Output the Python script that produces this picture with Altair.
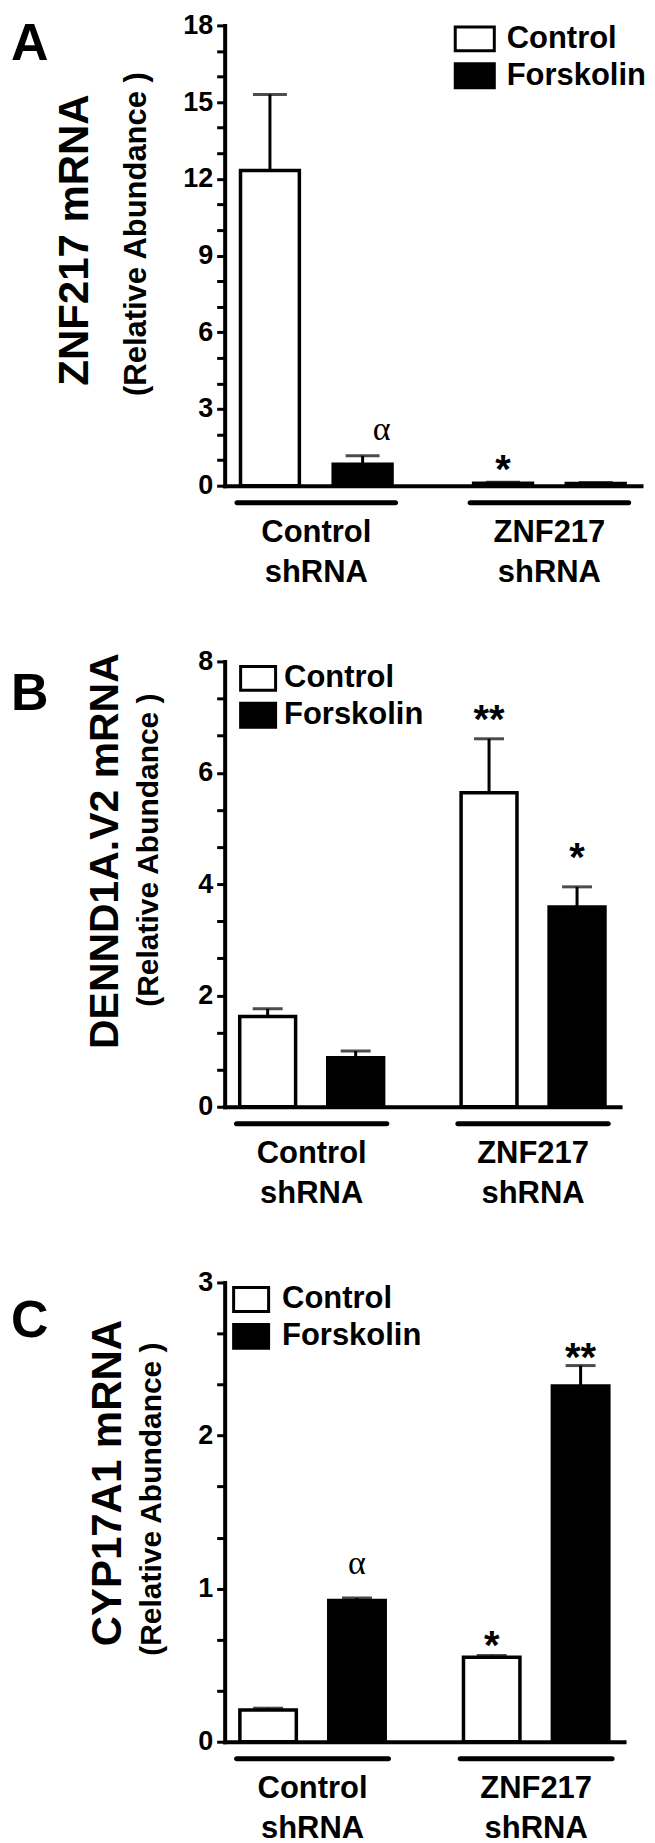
import altair as alt
import pandas as pd

FONT = "Liberation Sans"
SERIF = "Liberation Serif"

groups = ["Control shRNA", "ZNF217 shRNA"]
treatments = ["Control", "Forskolin"]
bar_group = ["Control shRNA", "Control shRNA", "ZNF217 shRNA", "ZNF217 shRNA"]
bar_treat = ["Control", "Forskolin", "Control", "Forskolin"]

# Panel A : ZNF217 mRNA
a_mean = [12.33, 0.84, 0.10, 0.09]
a_upper = [15.30, 1.17, 0.13, 0.12]
a_ticks = [0, 3, 6, 9, 12, 15, 18]
a_ann_group = ["Control shRNA", "ZNF217 shRNA"]
a_ann_treat = ["Forskolin", "Control"]
a_ann_text = ["α", "*"]
a_ann_pos = [2.10, 0.99]

# Panel B : DENND1A.V2 mRNA
b_mean = [1.62, 0.88, 5.64, 3.59]
b_upper = [1.76, 1.00, 6.61, 3.95]
b_ticks = [0, 2, 4, 6, 8]
b_ann_group = ["ZNF217 shRNA", "ZNF217 shRNA"]
b_ann_treat = ["Control", "Forskolin"]
b_ann_text = ["**", "*"]
b_ann_pos = [7.13, 4.64]

# Panel C : CYP17A1 mRNA
c_mean = [0.207, 0.923, 0.551, 2.323]
c_upper = [0.219, 0.939, 0.563, 2.457]
c_ticks = [0, 1, 2, 3]
c_ann_group = ["Control shRNA", "ZNF217 shRNA", "ZNF217 shRNA"]
c_ann_treat = ["Forskolin", "Control", "Forskolin"]
c_ann_text = ["α", "*", "**"]
c_ann_pos = [1.15, 0.69, 2.57]

subtitle = "(Relative Abundance )"


def panel(letter, title, mean, upper, ticks, ann_group, ann_treat, ann_text, ann_pos, cfg):
    W, H = cfg["W"], cfg["H"]
    major = ticks[1] - ticks[0]
    minor = major / 3.0
    n = int(round(ticks[-1] / minor))
    tick_vals = [round(i * minor, 6) for i in range(n + 1)]

    df = pd.DataFrame({"group": bar_group, "treatment": bar_treat, "mean": mean, "upper": upper})
    ann = pd.DataFrame({"group": ann_group, "treatment": ann_treat, "label": ann_text, "pos": ann_pos})
    stars_df = ann[ann["label"] != "α"]
    alpha_df = ann[ann["label"] == "α"]

    yscale = alt.Scale(domain=[ticks[0], ticks[-1]], nice=False, zero=True)
    yaxis = alt.Axis(
        values=tick_vals,
        labelExpr=f"abs(datum.value/{major} - round(datum.value/{major})) < 0.001 ? format(datum.value, 'd') : ''",
        title=None, grid=False, domainColor="black", domainWidth=4, domainCap="square",
        tickColor="black", tickWidth=3, tickSize=8,
        labelFont=FONT, labelFontSize=27, labelFontWeight="bold", labelColor="black",
        labelPadding=4, labelOverlap=False,
    )
    xaxis = alt.Axis(
        title=None, ticks=False, labelAngle=0, labelExpr="split(datum.label, ' ')",
        labelFont=FONT, labelFontSize=31, labelFontWeight="bold", labelColor="black",
        labelPadding=32, labelLineHeight=40, labelBaseline="top",
        domainColor="black", domainWidth=4, domainCap="square", grid=False,
    )
    xenc = alt.X("group:N", sort=groups,
                 scale=alt.Scale(domain=groups, paddingInner=0.35, paddingOuter=0.068),
                 axis=xaxis)
    xoff = alt.XOffset("treatment:N", sort=treatments,
                       scale=alt.Scale(domain=treatments, paddingInner=0.365, paddingOuter=0))
    hw = cfg["hw"]
    legend = alt.Legend(
        title=None, orient="none", legendX=cfg["lx"], legendY=cfg["ly"],
        symbolType=f"M-{hw},-1H{hw}V1H-{hw}Z", symbolSize=576,
        symbolStrokeColor="black", symbolStrokeWidth=3, symbolOpacity=1,
        labelFont=FONT, labelFontSize=31, labelFontWeight="bold", labelColor="black",
        labelOffset=cfg["lo"], rowPadding=0, padding=0,
    )
    fill = alt.Fill("treatment:N", sort=treatments,
                    scale=alt.Scale(domain=treatments, range=["white", "black"]),
                    legend=legend)

    base = alt.Chart(df)
    stems = base.mark_rule(color="black", strokeWidth=3).encode(
        x=xenc, xOffset=xoff,
        y=alt.Y("mean:Q", scale=yscale, axis=yaxis), y2="upper:Q")
    bars = base.mark_bar(stroke="black", strokeWidth=3.5).encode(
        x=xenc, xOffset=xoff,
        y=alt.Y("mean:Q", scale=yscale, axis=yaxis), fill=fill)
    caps = base.mark_tick(color="black", thickness=3, size=cfg["cap"], orient="horizontal").encode(
        x=xenc, xOffset=xoff, y=alt.Y("upper:Q", scale=yscale, axis=yaxis))

    underline = alt.Chart(pd.DataFrame({"group": groups})).mark_bar(
        color="black", cornerRadius=2.5, width={"band": 1.08}).encode(
        x=xenc, y=alt.value(H + 14.5), y2=alt.value(H + 19.5))

    layers = [underline, stems, bars, caps]
    if len(stars_df):
        layers.append(alt.Chart(stars_df).mark_text(
            font=FONT, fontWeight="bold", fontSize=40, baseline="alphabetic", dy=23, color="black").encode(
            x=xenc, xOffset=xoff, y=alt.Y("pos:Q", scale=yscale, axis=yaxis), text="label:N"))
    if len(alpha_df):
        layers.append(alt.Chart(alpha_df).mark_text(
            font=SERIF, fontSize=34, baseline="alphabetic", dy=8, dx=cfg["adx"], color="black").encode(
            x=xenc, xOffset=xoff, y=alt.Y("pos:Q", scale=yscale, axis=yaxis), text="label:N"))

    layers.append(alt.Chart(pd.DataFrame({"t": [letter]})).mark_text(
        font=FONT, fontWeight="bold", fontSize=52, align="left", baseline="alphabetic", color="black").encode(
        text="t:N", x=alt.value(-214), y=alt.value(cfg["letter_y"])))
    layers.append(alt.Chart(pd.DataFrame({"t": [title]})).mark_text(
        font=FONT, fontWeight="bold", fontSize=cfg["tfs"], angle=270, align="center", baseline="middle",
        color="black").encode(
        text="t:N", x=alt.value(cfg["tx"]), y=alt.value(cfg["ty"])))
    layers.append(alt.Chart(pd.DataFrame({"t": [subtitle]})).mark_text(
        font=FONT, fontWeight="bold", fontSize=cfg["sfs"], angle=270, align="center", baseline="middle",
        color="black").encode(
        text="t:N", x=alt.value(cfg["sx"]), y=alt.value(cfg["sy"])))

    return alt.layer(*layers).properties(width=W, height=H)


HA, HB, HC = 461, 446, 460
cfgA = dict(W=417, H=HA, letter_y=HA - 426, tx=-149.5, ty=HA - 246, sx=-87.5, sy=HA - 252,
            tfs=42, sfs=31, hw=1.63, lx=235, lo=16.5, ly=HA - 463, adx=19, cap=34)
cfgB = dict(W=396, H=HB, letter_y=HB - 397, tx=-119, ty=HB - 256, sx=-76, sy=HB - 257,
            tfs=41, sfs=30, hw=1.46, lx=18, lo=10.5, ly=HB - 444.5, adx=0, cap=30)
cfgC = dict(W=400, H=HC, letter_y=HC - 405, tx=-117, ty=HC - 259, sx=-73, sy=HC - 243,
            tfs=42, sfs=30, hw=1.46, lx=11, lo=15.5, ly=HC - 458.5, adx=0, cap=30)

pA = panel("A", "ZNF217 mRNA", a_mean, a_upper, a_ticks, a_ann_group, a_ann_treat, a_ann_text, a_ann_pos, cfgA)
pB = panel("B", "DENND1A.V2 mRNA", b_mean, b_upper, b_ticks, b_ann_group, b_ann_treat, b_ann_text, b_ann_pos, cfgB)
pC = panel("C", "CYP17A1 mRNA", c_mean, c_upper, c_ticks, c_ann_group, c_ann_treat, c_ann_text, c_ann_pos, cfgC)

chart = alt.vconcat(pA, pB, pC, spacing=176, bounds="flush").resolve_scale(
    x="independent", y="independent", fill="independent", xOffset="independent"
).resolve_legend(fill="independent").properties(
    padding={"left": 3, "top": 2, "right": 0, "bottom": 0}, background="white"
).configure_view(stroke=None)

chart.save("out.html", embed_options={"renderer": "svg", "actions": False})
